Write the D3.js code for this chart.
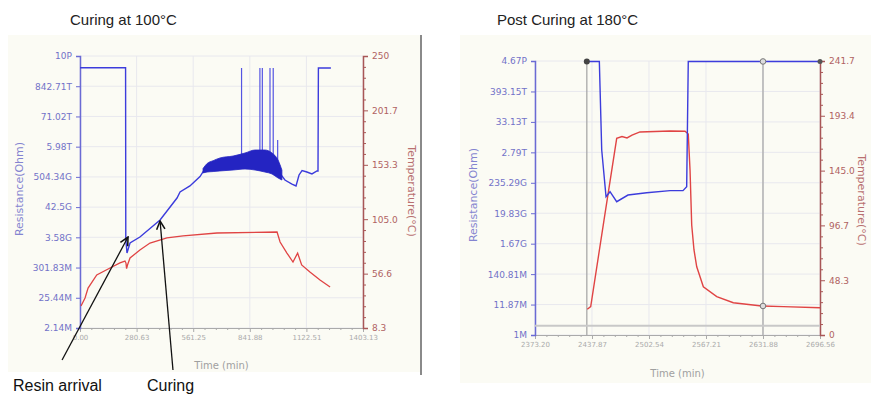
<!DOCTYPE html>
<html>
<head>
<meta charset="utf-8">
<script src="https://cdn.jsdelivr.net/npm/d3@7"></script>
<style>
  body { margin: 0; background: #fff; }
  svg { display: block; }
  .tick text { font-family: "DejaVu Sans", Verdana, sans-serif; }
</style>
</head>
<body>
<svg id="chart" width="871" height="396"></svg>
<script>
// ---- left chart: curing at 100°C ----
const curTicksX = [0, 280.63, 561.25, 841.88, 1122.51, 1403.13];
const curTickLabelsX = ["0.00", "280.63", "561.25", "841.88", "1122.51", "1403.13"];
const curResTicks = [2.14e6, 25.44e6, 301.83e6, 3.58e9, 42.5e9, 504.34e9, 5.98e12, 71.02e12, 842.71e12, 10e15];
const curResLabels = ["2.14M", "25.44M", "301.83M", "3.58G", "42.5G", "504.34G", "5.98T", "71.02T", "842.71T", "10P"];
const curTempTicks = [8.3, 56.6, 105.0, 153.3, 201.7, 250];
const curTempLabels = ["8.3", "56.6", "105.0", "153.3", "201.7", "250"];

// resistance (time min, ohm)
const curRes = [
  [0, 3.8e15], [226, 3.8e15], [227, 3.2e9], [233, 9.9e8], [248, 2.25e9], [297, 3.67e9],
  [397, 1.48e10], [481, 8.95e10], [496, 1.46e11], [545, 2.4e11], [595, 5.2e11], [620, 1.0e12],
  [759, 1.6e12], [868, 2.0e12], [952, 1.5e12], [1001, 5.5e11], [1016, 3.9e11], [1051, 2.8e11],
  [1071, 2.4e11], [1086, 5.9e11], [1101, 8.5e11], [1125, 7.5e11], [1150, 6.4e11], [1175, 8.2e11],
  [1180, 8.2e11], [1182, 3.74e15], [1244, 3.74e15]
];
// noisy band of the resistance trace
const curBandT  = [610, 630, 660, 694, 759, 818, 868, 917, 952, 982, 1001];
const curBandHi = [1.0e12, 1.5e12, 1.9e12, 2.37e12, 2.78e12, 3.56e12, 4.55e12, 4.55e12, 3.56e12, 2.0e12, 8.85e11];
const curBandLo = [7.0e11, 7.5e11, 7.8e11, 8.2e11, 8.85e11, 9.6e11, 8.85e11, 7.5e11, 6.4e11, 4.6e11, 3.9e11];
// spikes
const curSpikeT   = [801, 892, 904, 942, 958, 980];
const curSpikeTop = [3.74e15, 3.74e15, 3.74e15, 3.74e15, 3.74e15, 1.03e13];
const curSpikeBase = 1.4e12;

// temperature (time min, °C)
const curTemp = [
  [5, 27.8], [25, 35], [40, 43.8], [83, 55.4], [149, 61.6], [198, 66.1], [223, 67.8], [228, 66],
  [231, 61], [236, 64.5], [248, 70.5], [297, 77.6], [347, 83.8], [431, 88.3], [511, 90.1],
  [679, 92.7], [977, 93.6], [992, 84.7], [1026, 74.9], [1056, 66.9], [1079, 74.9], [1099, 64.3],
  [1140, 58.1], [1190, 51.0], [1240, 44.7]
];

// annotations: tail and tip in data units (time, ohm)
const notes = [
  { tail: [-89, 1.56e5], tip: [238, 3.67e9] },
  { tail: [461, 6.9e4], tip: [397, 1.36e10] }
];

// ---- right chart: post curing at 180°C ----
const postTicksX = [2373.20, 2437.87, 2502.54, 2567.21, 2631.88, 2696.56];
const postTickLabelsX = ["2373.20", "2437.87", "2502.54", "2567.21", "2631.88", "2696.56"];
const postResTicks = [1e6, 11.87e6, 140.81e6, 1.67e9, 19.83e9, 235.29e9, 2.79e12, 33.13e12, 393.15e12, 4.67e15];
const postResLabels = ["1M", "11.87M", "140.81M", "1.67G", "19.83G", "235.29G", "2.79T", "33.13T", "393.15T", "4.67P"];
const postTempTicks = [0, 48.3, 96.7, 145.0, 193.4, 241.7];
const postTempLabels = ["0", "48.3", "96.7", "145.0", "193.4", "241.7"];

const postRes = [
  [2432, 4.5e15], [2446.2, 4.5e15], [2448.9, 3.37e12], [2453.8, 7.6e10], [2458.3, 1.14e11],
  [2465.9, 5.06e10], [2478.7, 8.7e10], [2499.9, 1.05e11], [2526.4, 1.24e11], [2541.1, 1.24e11],
  [2545.3, 1.71e11], [2547.1, 4.5e15], [2696.56, 4.5e15]
];
const postTemp = [
  [2432.5, 22.7], [2436.4, 25.0], [2451.5, 101.4], [2465.9, 173.5], [2471.9, 175.1], [2477.6, 173.8],
  [2483.3, 176.4], [2492.3, 179.1], [2526.4, 180.0], [2543.4, 179.7], [2547.1, 177.3], [2549.1, 145.5],
  [2551, 97.0], [2553.6, 75.0], [2556.7, 60.2], [2564.2, 42.6], [2579.4, 33.8], [2598.2, 28.5],
  [2630.4, 25.6], [2654.9, 25.0], [2696.56, 24.1]
];
const postCursors = [2432, 2631.88];
const postHLine = 8.2;   // horizontal cursor, °C

const svg = d3.select("#chart");
const blue = "#3c3cdc", red = "#e04444";
const resColor = "#7272c8", tempColor = "#b06262", gridColor = "#e8e8ee";
const labelFont = "Liberation Sans, Arial, sans-serif";

function minors(ticks, n) {
  const out = [];
  for (let i = 0; i < ticks.length - 1; i++) {
    for (let k = 1; k < n; k++) out.push(ticks[i] + (ticks[i + 1] - ticks[i]) * k / n);
  }
  return out;
}

function panel(o) {
  const g = svg.append("g");
  const x = d3.scaleLinear().domain(o.xDomain).range([o.left, o.right]);
  const r = d3.scaleLog().domain(o.rDomain).range([o.bottom, o.top]);
  const t = d3.scaleLinear().domain(o.tDomain).range([o.bottom, o.top]);

  // gridlines
  g.append("g").selectAll("line").data(o.xTicks).join("line")
    .attr("x1", d => x(d)).attr("x2", d => x(d)).attr("y1", o.top).attr("y2", o.bottom)
    .attr("stroke", gridColor).attr("stroke-width", 1);
  g.append("g").selectAll("line").data(o.rTicks).join("line")
    .attr("x1", o.left).attr("x2", o.right).attr("y1", d => r(d)).attr("y2", d => r(d))
    .attr("stroke", gridColor).attr("stroke-width", 1);

  // x axis
  const xa = g.append("g").attr("transform", `translate(0,${o.bottom})`)
    .call(d3.axisBottom(x).tickValues(o.xTicks).tickFormat((d, i) => o.xLabels[i]).tickSize(4).tickPadding(3));
  xa.select(".domain").attr("stroke", "#aaa");
  xa.selectAll(".tick line").attr("stroke", "#aaa");
  xa.selectAll(".tick text").attr("fill", "#aaa").style("font-size", "7px");
  const xm = g.append("g").attr("transform", `translate(0,${o.bottom})`)
    .call(d3.axisBottom(x).tickValues(minors(o.xTicks, 5)).tickFormat("").tickSize(2));
  xm.select(".domain").remove();
  xm.selectAll(".tick line").attr("stroke", "#aaa");

  // left resistance axis
  const la = g.append("g").attr("transform", `translate(${o.left},0)`)
    .call(d3.axisLeft(r).tickValues(o.rTicks).tickFormat((d, i) => o.rLabels[i]).tickSize(4).tickPadding(4));
  la.select(".domain").attr("stroke", "#6a6ad4").attr("stroke-width", 1.5);
  la.selectAll(".tick line").attr("stroke", "#6a6ad4");
  la.selectAll(".tick text").attr("fill", resColor).style("font-size", "9px");

  // right temperature axis
  const ra = g.append("g").attr("transform", `translate(${o.right},0)`)
    .call(d3.axisRight(t).tickValues(o.tTicks).tickFormat((d, i) => o.tLabels[i]).tickSize(5).tickPadding(4));
  ra.select(".domain").attr("stroke", "#a85656").attr("stroke-width", 1.5);
  ra.selectAll(".tick line").attr("stroke", "#a85656");
  ra.selectAll(".tick text").attr("fill", tempColor).style("font-size", "9px");
  const rm = g.append("g").attr("transform", `translate(${o.right},0)`)
    .call(d3.axisRight(t).tickValues(minors(o.tTicks, 5)).tickFormat("").tickSize(3));
  rm.select(".domain").remove();
  rm.selectAll(".tick line").attr("stroke", "#a85656");

  // axis titles
  g.append("text").attr("transform", `translate(${o.rTitleX},${(o.top + o.bottom) / 2 - 3}) rotate(-90)`)
    .attr("text-anchor", "middle").attr("fill", "#8484d0")
    .style("font-family", "DejaVu Sans, Verdana, sans-serif").style("font-size", "11px")
    .text("Resistance(Ohm)");
  g.append("text").attr("transform", `translate(${o.tTitleX},${(o.top + o.bottom) / 2 + o.tTitleDy}) rotate(90)`)
    .attr("text-anchor", "middle").attr("fill", "#b87070")
    .style("font-family", "DejaVu Sans, Verdana, sans-serif").style("font-size", "11px")
    .text("Temperature(°C)");
  g.append("text").attr("x", (o.left + o.right) / 2).attr("y", o.xTitleY)
    .attr("text-anchor", "middle").attr("fill", "#a0a0a0")
    .style("font-family", "DejaVu Sans, Verdana, sans-serif").style("font-size", "10px")
    .text("Time (min)");

  return { g, x, r, t };
}

// panel backgrounds
svg.append("rect").attr("x", 8).attr("y", 35).attr("width", 412).attr("height", 337).attr("fill", "#fbfbf4");
svg.append("rect").attr("x", 460).attr("y", 35).attr("width", 411).attr("height", 348).attr("fill", "#fbfbf4");
svg.append("line").attr("x1", 421).attr("x2", 421).attr("y1", 35).attr("y2", 375)
  .attr("stroke", "#8a8a8a").attr("stroke-width", 2);

// titles
svg.append("text").attr("x", 70).attr("y", 25).text("Curing at 100°C")
  .style("font-family", labelFont).style("font-size", "15px").attr("fill", "#222");
svg.append("text").attr("x", 497).attr("y", 25).text("Post Curing at 180°C")
  .style("font-family", labelFont).style("font-size", "15px").attr("fill", "#222");

// ---- left ----
const L = panel({
  left: 80, right: 363, top: 56, bottom: 328,
  xDomain: [0, 1403.13], rDomain: [2.14e6, 1e16], tDomain: [8.3, 250],
  xTicks: curTicksX, xLabels: curTickLabelsX, rTicks: curResTicks, rLabels: curResLabels,
  tTicks: curTempTicks, tLabels: curTempLabels, rTitleX: 23, tTitleX: 408, tTitleDy: -1, xTitleY: 369
});
L.g.append("path").datum(curTemp).attr("fill", "none").attr("stroke", red).attr("stroke-width", 1.3)
  .attr("d", d3.line().x(d => L.x(d[0])).y(d => L.t(d[1])));
L.g.append("g").selectAll("line").data(curSpikeT).join("line")
  .attr("x1", d => L.x(d)).attr("x2", d => L.x(d))
  .attr("y1", L.r(curSpikeBase)).attr("y2", (d, i) => L.r(curSpikeTop[i]))
  .attr("stroke", "#5454e2").attr("stroke-width", 1.2);
L.g.append("path").datum(curRes).attr("fill", "none").attr("stroke", blue).attr("stroke-width", 1.4)
  .attr("d", d3.line().x(d => L.x(d[0])).y(d => L.r(d[1])));
L.g.append("path").datum(curBandT).attr("fill", "#2424c2").attr("stroke", "#2424c2").attr("stroke-width", 0.8)
  .attr("d", d3.area().curve(d3.curveMonotoneX).x(d => L.x(d))
    .y0((d, i) => L.r(curBandLo[i])).y1((d, i) => L.r(curBandHi[i])));

// arrows
const defs = svg.append("defs");
defs.append("marker").attr("id", "arr").attr("viewBox", "0 0 10 10").attr("refX", 9).attr("refY", 5)
  .attr("markerWidth", 8).attr("markerHeight", 8).attr("orient", "auto")
  .append("path").attr("d", "M1,1 L9,5 L1,9").attr("fill", "none").attr("stroke", "#111").attr("stroke-width", 1.5);
L.g.append("g").selectAll("line").data(notes).join("line")
  .attr("x1", d => L.x(d.tail[0])).attr("y1", d => L.r(d.tail[1]))
  .attr("x2", d => L.x(d.tip[0])).attr("y2", d => L.r(d.tip[1]))
  .attr("stroke", "#111").attr("stroke-width", 1.3).attr("marker-end", "url(#arr)");
svg.append("text").attr("x", 13).attr("y", 391).text("Resin arrival")
  .style("font-family", labelFont).style("font-size", "16px").attr("fill", "#111");
svg.append("text").attr("x", 147).attr("y", 391).text("Curing")
  .style("font-family", labelFont).style("font-size", "16px").attr("fill", "#111");

// ---- right ----
const R = panel({
  left: 535, right: 820, top: 61, bottom: 335,
  xDomain: [2373.2, 2696.56], rDomain: [1e6, 4.67e15], tDomain: [0, 241.7],
  xTicks: postTicksX, xLabels: postTickLabelsX, rTicks: postResTicks, rLabels: postResLabels,
  tTicks: postTempTicks, tLabels: postTempLabels, rTitleX: 477, tTitleX: 858, tTitleDy: 2, xTitleY: 377
});
R.g.append("g").selectAll("line").data(postCursors).join("line")
  .attr("x1", d => R.x(d)).attr("x2", d => R.x(d)).attr("y1", 61).attr("y2", 335)
  .attr("stroke", "#a8a8a8").attr("stroke-width", 1.3);
R.g.append("line").attr("x1", 535).attr("x2", 820).attr("y1", R.t(postHLine)).attr("y2", R.t(postHLine))
  .attr("stroke", "#c8c8c8").attr("stroke-width", 2);
R.g.append("path").datum(postTemp).attr("fill", "none").attr("stroke", red).attr("stroke-width", 1.4)
  .attr("d", d3.line().x(d => R.x(d[0])).y(d => R.t(d[1])));
R.g.append("path").datum(postRes).attr("fill", "none").attr("stroke", blue).attr("stroke-width", 1.4)
  .attr("d", d3.line().x(d => R.x(d[0])).y(d => R.r(d[1])));
// cursor markers
R.g.append("circle").attr("cx", R.x(postCursors[0])).attr("cy", R.r(4.5e15)).attr("r", 3).attr("fill", "#444");
R.g.append("circle").attr("cx", R.x(postCursors[1])).attr("cy", R.r(4.5e15)).attr("r", 2.8)
  .attr("fill", "#ddd").attr("stroke", "#777");
R.g.append("circle").attr("cx", R.x(2696.56)).attr("cy", R.r(4.5e15)).attr("r", 2.5).attr("fill", "#555");
R.g.append("circle").attr("cx", R.x(postCursors[1])).attr("cy", R.t(25.6)).attr("r", 2.8)
  .attr("fill", "#ddd").attr("stroke", "#777");
</script>
</body>
</html>
